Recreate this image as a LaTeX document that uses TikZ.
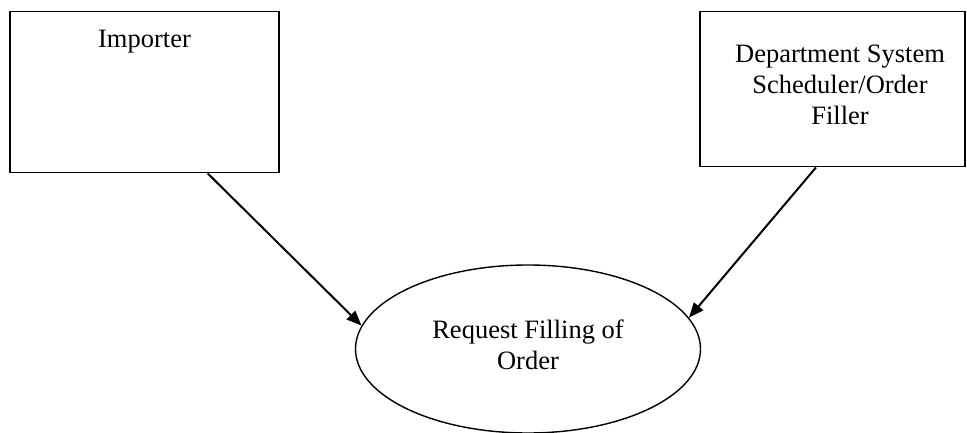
\documentclass[tikz,border=0pt]{standalone}
\usepackage{fontspec}
\setmainfont{Liberation Serif}
\usetikzlibrary{arrows.meta,positioning,shapes.geometric}
\begin{document}
\begin{tikzpicture}[x=1pt,y=-1pt,
	box/.style={draw, line width=1.4pt, inner sep=0pt},
	txt/.style={font=\fontsize{26.5}{31}\selectfont, align=center, inner sep=0pt},
	flow/.style={line width=2pt, -{Triangle[length=15pt,width=12pt]}}]
			\useasboundingbox (0,0) rectangle (967,433);
			%Attori
			\node [box, minimum width=269pt, minimum height=161pt] (imp) at (144.5,92.2) {};
			\node [txt, anchor=base] (impt) at (144.5,47.7) {Importer};
			\node [box, minimum width=265pt, minimum height=155pt] (dss) at (832.5,89.2) {};
			\node [txt, anchor=base] (dsst) at (840,124.3) {Department System\\Scheduler/Order\\Filler};
			%Caso d'uso
			\node [box, ellipse, minimum width=345pt, minimum height=168pt] (req) at (528,349) {};
			\node [txt, anchor=base] (reqt) at (528,369.3) {Request Filling of\\Order};
			\draw [flow] ([xshift=63.2pt]imp.south) -- (req.172.8);
			\draw [flow] ([xshift=-16.5pt]dss.south) -- (req.11.6);
\end{tikzpicture}
\end{document}
